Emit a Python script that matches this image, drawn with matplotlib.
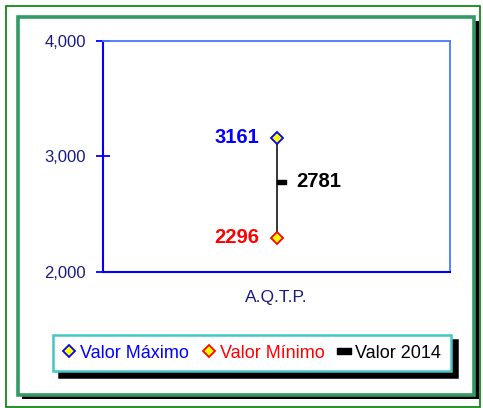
import matplotlib
matplotlib.use("Agg")
import matplotlib.pyplot as plt
from matplotlib.patches import Rectangle
from matplotlib.lines import Line2D
from matplotlib.path import Path

plt.rcParams['font.family'] = ['Liberation Sans', 'DejaVu Sans']

categories = ['A.Q.T.P.']
valor_maximo = [3161]
valor_minimo = [2296]
valor_2014 = [2781]
y_ticks = [2000, 3000, 4000]
y_tick_labels = ['2,000', '3,000', '4,000']
legend_labels = ['Valor Máximo', 'Valor Mínimo', 'Valor 2014']

W, H = 483, 408
fig = plt.figure(figsize=(W / 100, H / 100), dpi=100)
fig.patch.set_facecolor('white')

def box(x0, y0, x1, y1, **kw):
    r = Rectangle((x0 / W, 1 - y1 / H), (x1 - x0) / W, (y1 - y0) / H,
                  transform=fig.transFigure, zorder=-10, **kw)
    fig.patches.append(r)
    return r

# outer thin green frame
box(5.5, 5.5, 479.5, 406.5, facecolor='none', edgecolor='#008000', linewidth=1.2)
# shadow of inner frame
box(22, 21, 479, 399, facecolor='black', edgecolor='none')
# inner frame
box(17.5, 17, 474, 394.5, facecolor='white', edgecolor='#339966', linewidth=2.6)

ax = fig.add_axes([103 / W, 1 - 272 / H, (450 - 103) / W, (272 - 41) / H])
ax.set_zorder(2)
ax.set_facecolor('white')
x = list(range(len(categories)))
ax.set_xlim(-0.5, len(categories) - 0.5)
ax.set_ylim(2000, 4000)

# vertical range line
for xi, lo, hi in zip(x, valor_minimo, valor_maximo):
    ax.plot([xi, xi], [lo, hi], color='black', linewidth=1.1, zorder=3)

# 2014 marker (dash to the right of line)
dash = Path([(0, -0.27), (1, -0.27), (1, 0.27), (0, 0.27), (0, -0.27)],
            [Path.MOVETO, Path.LINETO, Path.LINETO, Path.LINETO, Path.CLOSEPOLY])
ax.plot(x, valor_2014, linestyle='none', marker=dash, markersize=13,
        color='black', zorder=4)
ax.plot(x, valor_maximo, linestyle='none', marker='D', markersize=6.5,
        markerfacecolor='#ffff00', markeredgecolor='#0000ff', markeredgewidth=1.3, zorder=5)
ax.plot(x, valor_minimo, linestyle='none', marker='D', markersize=6.5,
        markerfacecolor='#ffff00', markeredgecolor='#ff0000', markeredgewidth=1.3, zorder=5)

for xi, v in zip(x, valor_maximo):
    ax.annotate(str(v), (xi, v), xytext=(-12.5, 0), textcoords='offset points',
                ha='right', va='center', color='#0000ff', fontsize=14.5, fontweight='bold')
for xi, v in zip(x, valor_minimo):
    ax.annotate(str(v), (xi, v), xytext=(-12.5, 0), textcoords='offset points',
                ha='right', va='center', color='#ff0000', fontsize=14.5, fontweight='bold')
for xi, v in zip(x, valor_2014):
    ax.annotate(str(v), (xi, v), xytext=(14, 0), textcoords='offset points',
                ha='left', va='center', color='black', fontsize=14.5, fontweight='bold')

# spines
ax.spines['left'].set_color('#0000ff')
ax.spines['left'].set_linewidth(1.5)
ax.spines['bottom'].set_color('#0000ff')
ax.spines['bottom'].set_linewidth(1.5)
ax.spines['top'].set_color('#4a78ff')
ax.spines['top'].set_linewidth(1.3)
ax.spines['right'].set_color('#4a78ff')
ax.spines['right'].set_linewidth(1.3)

ax.set_yticks(y_ticks)
ax.set_yticklabels(y_tick_labels)
ax.tick_params(axis='y', direction='inout', length=9.5, width=1.3, color='#0000ff',
               labelcolor='#1a1a80', labelsize=12, pad=7.5)
ax.set_xticks(x)
ax.set_xticklabels(categories)
ax.tick_params(axis='x', length=0, labelcolor='#1a1a80', labelsize=12.5, pad=13)

black_dash = Line2D([], [], linestyle='none',
                    marker=Path([(-0.5, -0.25), (0.5, -0.25), (0.5, 0.25), (-0.5, 0.25), (-0.5, -0.25)],
                                [Path.MOVETO, Path.LINETO, Path.LINETO, Path.LINETO, Path.CLOSEPOLY]),
                    markersize=10, color='black')
handles = [
    Line2D([], [], linestyle='none', marker='D', markersize=6.5, markerfacecolor='#ffff00',
           markeredgecolor='#0000ff', markeredgewidth=1.3),
    Line2D([], [], linestyle='none', marker='D', markersize=6.5, markerfacecolor='#ffff00',
           markeredgecolor='#ff0000', markeredgewidth=1.3),
    black_dash,
]

leg = fig.legend(handles, legend_labels, ncol=3, loc='center',
                 bbox_to_anchor=(252 / W, 1 - 353 / H), fontsize=13,
                 frameon=True, fancybox=False, handlelength=0.7, handletextpad=0.25,
                 columnspacing=0.75, borderpad=0.55, borderaxespad=0,
                 shadow={'ox': 4, 'oy': -4, 'color': 'black', 'alpha': 1})
leg.get_frame().set_edgecolor('#40c8c8')
leg.get_frame().set_linewidth(1.8)
for t, c in zip(leg.get_texts(), ['#0000ff', '#ff0000', 'black']):
    t.set_color(c)

fig.savefig('out.png', dpi=100, facecolor='white')
